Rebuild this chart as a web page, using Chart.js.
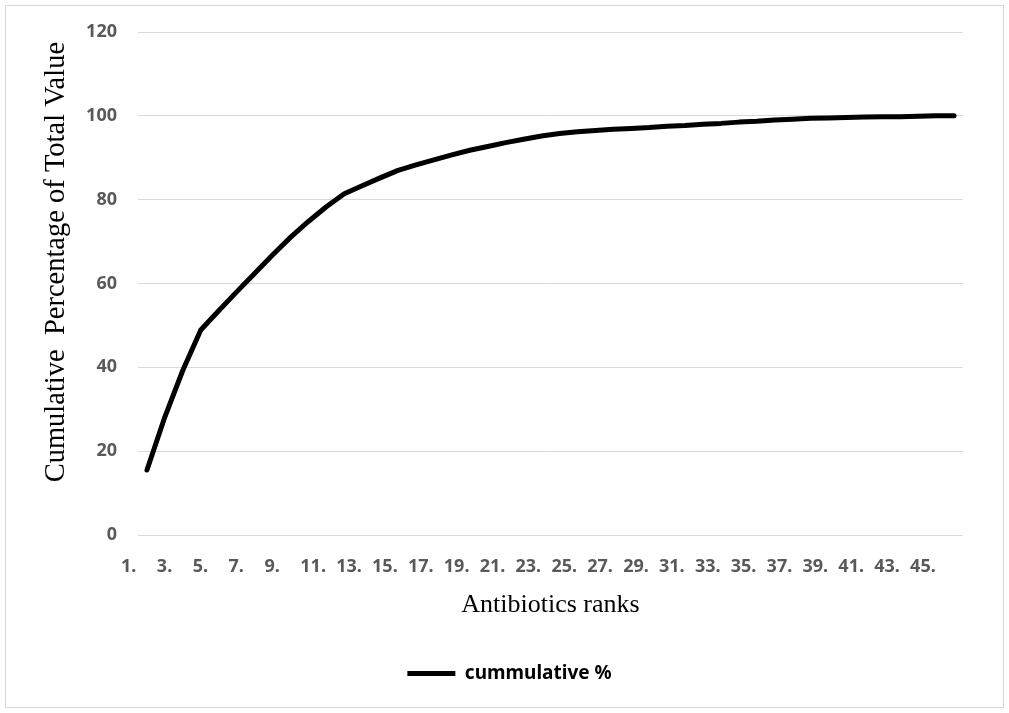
<!DOCTYPE html>
<html>
<head>
<meta charset="utf-8">
<script src="https://cdn.jsdelivr.net/npm/chart.js@4"></script>
<style>
  html, body { margin: 0; padding: 0; background: #fff; }
  #wrap { width: 1009px; height: 713px; }
</style>
</head>
<body>
<div id="wrap"><canvas id="graf" width="1009" height="713"></canvas></div>
<script>
var categories = ['1.', '2.', '3.', '4.', '5.', '6.', '7.', '8.', '9.', '10.',
    '11.', '12.', '13.', '14.', '15.', '16.', '17.', '18.', '19.', '20.',
    '21.', '22.', '23.', '24.', '25.', '26.', '27.', '28.', '29.', '30.',
    '31.', '32.', '33.', '34.', '35.', '36.', '37.', '38.', '39.', '40.',
    '41.', '42.', '43.', '44.', '45.', '46.'];
var cumulative = [15.5, 28.2, 39.3, 48.9, 53.5, 58.0, 62.4, 66.8, 71.0, 74.8,
    78.3, 81.4, 83.3, 85.2, 87.0, 88.3, 89.5, 90.7, 91.8, 92.7,
    93.6, 94.4, 95.2, 95.8, 96.2, 96.5, 96.8, 97.0, 97.2, 97.5,
    97.7, 98.0, 98.2, 98.5, 98.7, 99.0, 99.2, 99.4, 99.5, 99.6,
    99.7, 99.8, 99.8, 99.9, 100, 100];
var yTicks = [0, 20, 40, 60, 80, 100, 120];

// light grey frame round the whole chart, like the Excel export
var frame = {
    id: 'frame',
    beforeDraw: function (chart) {
        var c = chart.ctx;
        c.save();
        c.fillStyle = '#fff';
        c.fillRect(0, 0, chart.width, chart.height);
        c.strokeStyle = '#d9d9d9';
        c.lineWidth = 1;
        c.strokeRect(5.5, 5.5, chart.width - 11, chart.height - 11);
        c.restore();
    }
};

var ctx = document.getElementById("graf").getContext("2d");
var graf = new Chart(ctx, {
    type: 'line',
    data: {
        labels: categories,
        datasets: [{
            label: 'cummulative %',
            data: cumulative,
            borderColor: '#000',
            backgroundColor: '#000',
            borderWidth: 5,
            borderCapStyle: 'round',
            borderJoinStyle: 'round',
            pointRadius: 0,
            tension: 0
        }]
    },
    options: {
        responsive: false,
        animation: false,
        layout: {
            padding: { left: 56, right: 46, top: 32, bottom: 20 }
        },
        plugins: {
            legend: {
                position: 'bottom',
                labels: {
                    usePointStyle: true,
                    pointStyle: 'line',
                    pointStyleWidth: 48,
                    color: '#000',
                    font: { family: 'Noto Sans', size: 19, weight: 'bold' }
                }
            },
            tooltip: { enabled: false }
        },
        scales: {
            x: {
                offset: true,
                grid: { display: false, drawTicks: false },
                border: { display: false },
                afterFit: function (axis) { axis.height = 119; },
                ticks: {
                    autoSkip: false,
                    maxRotation: 0,
                    minRotation: 0,
                    align: 'start',
                    labelOffset: -26,
                    padding: 21,
                    color: '#595959',
                    font: { family: 'Noto Sans', size: 18, weight: 'bold' },
                    callback: function (v, i) { return i % 2 === 0 ? categories[i] : ''; }
                },
                title: {
                    display: true,
                    text: 'Antibiotics ranks',
                    color: '#000',
                    padding: { top: 0, bottom: 33 },
                    font: { family: 'Liberation Serif', size: 26 }
                }
            },
            y: {
                min: 0,
                max: 120,
                afterBuildTicks: function (axis) {
                    axis.ticks = yTicks.map(function (v) { return { value: v }; });
                },
                afterFit: function (axis) { axis.width = 82; },
                grid: { color: '#d9d9d9', lineWidth: 1, drawTicks: false },
                border: { display: false },
                ticks: {
                    padding: 21,
                    color: '#595959',
                    font: { family: 'Noto Sans', size: 18, weight: 'bold' }
                },
                title: {
                    display: true,
                    text: '      Cumulative  Percentage of Total Value',
                    color: '#000',
                    padding: { top: -17, bottom: 0 },
                    font: { family: 'Liberation Serif', size: 28.5 }
                }
            }
        }
    },
    plugins: [frame]
});
</script>
</body>
</html>
